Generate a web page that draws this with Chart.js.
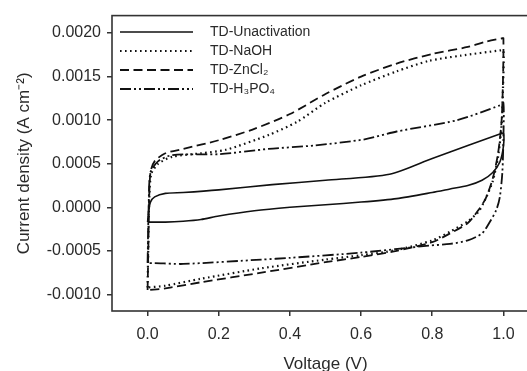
<!DOCTYPE html>
<html>
<head>
<meta charset="utf-8">
<script src="https://cdn.jsdelivr.net/npm/chart.js@4/dist/chart.umd.min.js"></script>
<style>
  html, body { margin: 0; padding: 0; background: #fff; overflow: hidden; }
  canvas { display: block; }
</style>
</head>
<body>
<canvas id="cvChart" width="540" height="371"></canvas>
<script>
// CV loops: voltage (V) and current density (A cm-2)
// each loop runs forward along the top branch, then back along the bottom one
const seriesNames = ['TD-Unactivation', 'TD-NaOH', 'TD-ZnCl\u2082', 'TD-H\u2083PO\u2084'];

const unactV = [0.000, 0.003, 0.008, 0.020, 0.050, 0.100, 0.200, 0.350, 0.500, 0.680, 0.800, 0.900, 0.990, 1.000,
                1.000, 0.990, 0.970, 0.940, 0.900, 0.850, 0.800, 0.700, 0.600, 0.500, 0.400, 0.300, 0.200, 0.150, 0.100, 0.050, 0.000];
const unactJ = [-0.00017, -0.00005, 0.00006, 0.00012, 0.00016, 0.00017, 0.00020, 0.00026, 0.00031, 0.00038, 0.00056, 0.00071, 0.00084, 0.00085,
                0.00070, 0.00052, 0.00040, 0.00031, 0.00025, 0.00021, 0.00017, 0.00010, 0.00006, 0.00003, 0.00000, -0.00004, -0.00010, -0.00014, -0.00016, -0.00017, -0.00017];

const naohV = [0.000, 0.002, 0.004, 0.010, 0.030, 0.070, 0.150, 0.220, 0.340, 0.420, 0.500, 0.600, 0.700, 0.790, 0.880, 0.990, 1.000,
               0.999, 0.995, 0.985, 0.970, 0.950, 0.930, 0.900, 0.850, 0.800, 0.700, 0.600, 0.500, 0.320, 0.150, 0.050, 0.000];
const naohJ = [-0.00092, -0.00045, 0.00000, 0.00038, 0.00050, 0.00058, 0.00062, 0.00066, 0.00083, 0.00098, 0.00120, 0.00140, 0.00156, 0.00168, 0.00174, 0.00180, 0.00180,
               0.00140, 0.00095, 0.00058, 0.00030, 0.00010, -0.00005, -0.00016, -0.00028, -0.00038, -0.00049, -0.00055, -0.00060, -0.00070, -0.00082, -0.00090, -0.00092];

const zncl2V = [0.000, 0.002, 0.004, 0.008, 0.020, 0.050, 0.100, 0.200, 0.300, 0.400, 0.500, 0.600, 0.700, 0.800, 0.900, 0.950, 0.997, 1.000,
                0.999, 0.995, 0.985, 0.970, 0.950, 0.930, 0.900, 0.850, 0.800, 0.700, 0.600, 0.500, 0.320, 0.150, 0.050, 0.000];
const zncl2J = [-0.00095, -0.00050, 0.00000, 0.00040, 0.00053, 0.00062, 0.00067, 0.00077, 0.00090, 0.00107, 0.00130, 0.00150, 0.00165, 0.00176, 0.00184, 0.00190, 0.00194, 0.00194,
                0.00150, 0.00100, 0.00062, 0.00033, 0.00010, -0.00003, -0.00018, -0.00030, -0.00040, -0.00050, -0.00057, -0.00063, -0.00075, -0.00086, -0.00093, -0.00095];

const h3po4V = [0.000, 0.003, 0.008, 0.030, 0.070, 0.200, 0.340, 0.470, 0.610, 0.700, 0.870, 0.990, 1.000,
                1.000, 0.997, 0.990, 0.980, 0.960, 0.940, 0.900, 0.850, 0.790, 0.600, 0.400, 0.320, 0.100, 0.020, 0.000];
const h3po4J = [-0.00064, 0.00000, 0.00040, 0.00053, 0.00060, 0.00061, 0.00067, 0.00071, 0.00078, 0.00087, 0.00100, 0.00117, 0.00120,
                0.00080, 0.00040, 0.00012, -0.00003, -0.00018, -0.00030, -0.00038, -0.00042, -0.00044, -0.00052, -0.00058, -0.00060, -0.00065, -0.00064, -0.00064];

const xTicks = [0.0, 0.2, 0.4, 0.6, 0.8, 1.0];
const yTicks = [-0.0010, -0.0005, 0.0000, 0.0005, 0.0010, 0.0015, 0.0020];

const toPoints = (vs, js) => vs.map((v, i) => ({ x: v, y: js[i] }));

const INK = '#111';
const TEXT = '#2a2a2a';
const FONT = "'Liberation Sans', Arial, sans-serif";

function makeSet(label, vs, js, dash, width, cap) {
    return {
        label: label,
        data: toPoints(vs, js),
        showLine: true,
        borderColor: INK,
        backgroundColor: INK,
        borderWidth: width,
        borderDash: dash,
        borderCapStyle: cap || 'butt',
        pointRadius: 0,
        tension: 0.25,
        fill: false
    };
}

// frame + legend drawn inside the plot area
const framePlugin = {
    id: 'frameAndLegend',
    afterDraw(chart) {
        const { ctx, chartArea: a } = chart;
        ctx.save();
        ctx.strokeStyle = '#333';
        ctx.lineWidth = 1.6;
        ctx.strokeRect(a.left, a.top, a.right - a.left, a.bottom - a.top);

        chart.data.datasets.forEach((ds, i) => {
            const y = 32 + i * 19;
            ctx.beginPath();
            ctx.setLineDash(ds.borderDash);
            ctx.lineCap = ds.borderCapStyle;
            ctx.lineWidth = ds.borderWidth;
            ctx.strokeStyle = ds.borderColor;
            ctx.moveTo(120, y);
            ctx.lineTo(193, y);
            ctx.stroke();
            ctx.setLineDash([]);
            ctx.fillStyle = TEXT;
            ctx.font = '14px ' + FONT;
            ctx.textBaseline = 'middle';
            ctx.fillText(ds.label, 210, y);
        });
        ctx.restore();
    }
};

new Chart(document.getElementById('cvChart'), {
    type: 'scatter',
    data: {
        datasets: [
            makeSet(seriesNames[0], unactV, unactJ, [], 1.6),
            makeSet(seriesNames[1], naohV, naohJ, [1.6, 3.4], 2.2),
            makeSet(seriesNames[2], zncl2V, zncl2J, [9, 4.5], 1.8),
            makeSet(seriesNames[3], h3po4V, h3po4J, [11, 3, 2, 3, 2, 3], 1.8)
        ]
    },
    options: {
        responsive: false,
        devicePixelRatio: 1,
        animation: false,
        layout: { padding: { top: 13, right: 1, left: 0, bottom: 0 } },
        plugins: {
            legend: { display: false },
            tooltip: { enabled: false }
        },
        scales: {
            x: {
                type: 'linear',
                min: -0.1,
                max: 1.1,
                afterFit: s => { s.height = 60; },
                afterBuildTicks: s => { s.ticks = xTicks.map(v => ({ value: v })); },
                grid: { display: true, drawOnChartArea: false, drawTicks: true, tickLength: 5, color: '#333', lineWidth: 1.5 },
                border: { display: false },
                ticks: {
                    color: TEXT,
                    font: { family: FONT, size: 16 },
                    padding: 9,
                    maxRotation: 0,
                    callback: v => Number(v).toFixed(1)
                },
                title: {
                    display: true,
                    text: 'Voltage (V)',
                    color: TEXT,
                    font: { family: FONT, size: 17 },
                    padding: { top: 0, bottom: -4 }
                }
            },
            y: {
                type: 'linear',
                min: -0.00119,
                max: 0.0022,
                afterFit: s => { s.width = 112; },
                afterBuildTicks: s => { s.ticks = yTicks.map(v => ({ value: v })); },
                grid: { display: true, drawOnChartArea: false, drawTicks: true, tickLength: 5, color: '#333', lineWidth: 1.5 },
                border: { display: false },
                ticks: {
                    color: TEXT,
                    font: { family: FONT, size: 16 },
                    padding: 6,
                    callback: v => Number(v).toFixed(4)
                },
                title: {
                    display: true,
                    text: 'Current density (A cm\u207B\u00B2)',
                    color: TEXT,
                    font: { family: FONT, size: 17 },
                    padding: { top: 14, bottom: 0 }
                }
            }
        }
    },
    plugins: [framePlugin]
});
</script>
</body>
</html>
